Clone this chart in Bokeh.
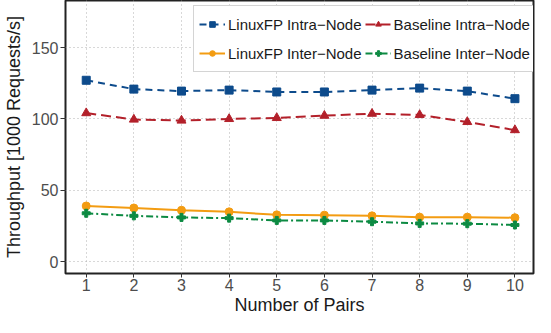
from bokeh.plotting import figure
from bokeh.models import Range1d, FixedTicker, Legend, LegendItem
from bokeh.embed import file_html
from bokeh.resources import INLINE

pairs = [1, 2, 3, 4, 5, 6, 7, 8, 9, 10]
linuxfp_intra = [127.1, 120.9, 119.5, 120.2, 118.9, 118.9, 120.2, 121.6, 119.5, 114.2]
baseline_intra = [104.1, 99.6, 98.9, 100.0, 100.7, 102.3, 103.7, 102.8, 97.9, 92.2]
linuxfp_inter = [39.0, 37.6, 36.0, 34.9, 32.8, 32.6, 32.1, 31.2, 31.2, 30.8]
baseline_inter = [33.9, 32.1, 31.0, 30.5, 28.9, 28.9, 28.0, 26.8, 26.6, 25.7]
y_ticks = [0, 50, 100, 150]
x_label = "Number of Pairs"
y_label = "Throughput [1000 Requests/s]"

FONT = "Liberation Sans"
BLUE = "#0d4b8c"
RED = "#b3202a"
ORANGE = "#f39c12"
GREEN = "#0c8a42"

p = figure(width=535, height=317, output_backend="svg", toolbar_location=None,
           x_range=Range1d(0.565, 10.39), y_range=Range1d(-8.3, 183),
           min_border_left=62, min_border_right=2, min_border_top=0, min_border_bottom=0)

p.outline_line_color = "#222222"
p.outline_line_width = 2
p.background_fill_color = "white"
p.border_fill_color = "white"

for ax in (p.xaxis, p.yaxis):
    ax.axis_line_color = None
    ax.major_tick_line_color = "#333333"
    ax.major_tick_line_width = 1
    ax.major_tick_in = 0
    ax.minor_tick_line_color = None
    ax.major_label_text_font = FONT
    ax.major_label_text_font_size = "16px"
    ax.major_label_text_color = "#4d4d4d"
    ax.axis_label_text_font = FONT
    ax.axis_label_text_font_size = "18px"
    ax.axis_label_text_font_style = "normal"
    ax.axis_label_text_color = "#1a1a1a"

p.xaxis.ticker = FixedTicker(ticks=pairs)
p.yaxis.ticker = FixedTicker(ticks=y_ticks)
p.xaxis.axis_label = x_label
p.yaxis.axis_label = y_label
p.xaxis.major_tick_out = 4
p.yaxis.major_tick_out = 5
p.xaxis.major_label_standoff = 1
p.yaxis.major_label_standoff = 2
p.xaxis.axis_label_standoff = 1
p.yaxis.axis_label_standoff = 5

p.grid.grid_line_color = "#b0b0b0"
p.grid.grid_line_dash = "1 3"
p.grid.grid_line_width = 1

l1 = p.line(pairs, linuxfp_intra, line_color=BLUE, line_width=2, line_dash="7 5")
m1 = p.scatter(pairs, linuxfp_intra, marker="square", size=8, color=BLUE)
l2 = p.line(pairs, baseline_intra, line_color=RED, line_width=2, line_dash="10 5")
m2 = p.scatter(pairs, baseline_intra, marker="triangle", size=9, color=RED)
l3 = p.line(pairs, linuxfp_inter, line_color=ORANGE, line_width=2)
m3 = p.scatter(pairs, linuxfp_inter, marker="circle", size=8, color=ORANGE)
l4 = p.line(pairs, baseline_inter, line_color=GREEN, line_width=2, line_dash="7 3 2 3")
m4 = p.scatter(pairs, baseline_inter, marker="plus", size=8, color=GREEN)

legend = Legend(items=[
    LegendItem(label="LinuxFP Intra−Node", renderers=[l1, m1]),
    LegendItem(label="LinuxFP Inter−Node", renderers=[l3, m3]),
    LegendItem(label="Baseline Intra−Node", renderers=[l2, m2]),
    LegendItem(label="Baseline Inter−Node", renderers=[l4, m4]),
], ncols=2, location=(128, 201))
legend.label_text_font = FONT
legend.label_text_font_size = "15px"
legend.label_text_color = "#1a1a1a"
legend.border_line_color = "#aaaaaa"
legend.border_line_width = 1
legend.background_fill_alpha = 1
legend.glyph_width = 26
legend.glyph_height = 14
legend.label_height = 26
legend.label_standoff = 3
legend.spacing = 3
legend.padding = 5
legend.margin = 0
p.add_layout(legend)

open("out.html", "w").write(file_html(p, INLINE))
